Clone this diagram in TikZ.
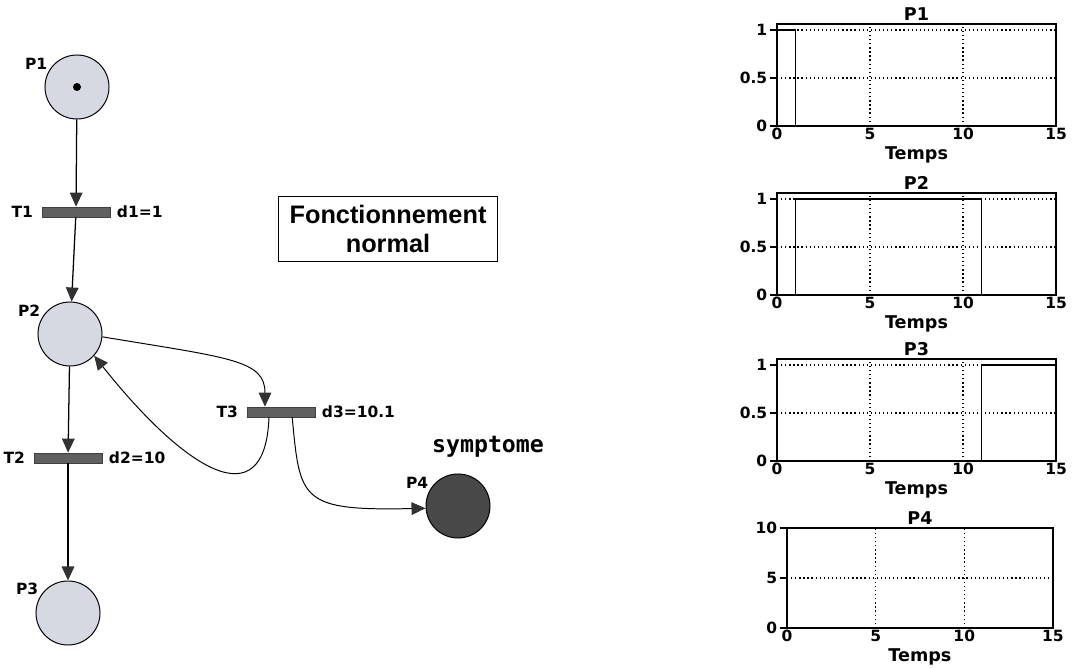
\documentclass[tikz,border=0pt]{standalone}
\usepackage{fontspec}
\setmainfont{DejaVu Sans}
\newfontfamily\boxfont{Liberation Sans}
\newfontfamily\symfont{DejaVu Sans Mono}
\usetikzlibrary{arrows.meta,positioning}

\definecolor{placegray}{RGB}{214,216,226}
\definecolor{markgray}{RGB}{72,72,72}
\definecolor{bargray}{RGB}{96,96,96}
\definecolor{tipgray}{RGB}{50,50,50}

\tikzset{
  place/.style={circle,draw,line width=0.7pt,fill=placegray,minimum size=1.6cm,inner sep=0pt},
  transition/.style={rectangle,draw=black!75,line width=0.5pt,fill=bargray,minimum width=1.7cm,minimum height=0.25cm,inner sep=0pt},
  lbl/.style={font=\bfseries\fontsize{11}{13}\selectfont,inner sep=1pt},
  arc/.style={line width=0.7pt,-{Triangle[length=10pt,width=9pt,color=tipgray]}},
  frame/.style={line width=1pt},
  gridline/.style={dotted,line width=0.9pt},
  trace/.style={line width=1pt},
  tick/.style={font=\bfseries\fontsize{11}{13}\selectfont,inner sep=1.5pt},
  axistitle/.style={font=\bfseries\fontsize{12.5}{14}\selectfont,inner sep=0pt}
}

\begin{document}
\begin{tikzpicture}[x=0.025cm,y=0.025cm]
  \useasboundingbox (0,0) rectangle (1072,-668);

  % the net
  \node[place,label={[lbl]150:P1}] (P1) at (77,-87) {};
  \node[circle,fill=black,minimum size=0.2cm,inner sep=0pt] (tok) at (P1) {};
  \node[transition,label={[lbl,label distance=5pt]left:T1},label={[lbl,label distance=3.5pt]right:d1=1}] (T1) at (76,-212) {};
  \node[place,label={[lbl]150:P2}] (P2) at (70,-334) {};
  \node[transition,label={[lbl,label distance=5pt]left:T2},label={[lbl,label distance=3.5pt]right:d2=10}] (T2) at (68,-458) {};
  \node[place,label={[lbl]150:P3}] (P3) at (68,-613) {};
  \node[transition,label={[lbl,label distance=5pt]left:T3},label={[lbl,label distance=3.5pt]right:d3=10.1}] (T3) at (281,-412) {};
  \node[place,fill=markgray,label={[lbl]150:P4}] (P4) at (458,-506) {};
  \node[font=\symfont\bfseries\fontsize{16.5}{18}\selectfont,inner sep=0pt] (symp) at (488,-447) {symptome};

  \node[draw,line width=0.8pt,minimum width=5.475cm,minimum height=1.63cm,align=center,
        font=\boxfont\bfseries\fontsize{18}{20}\selectfont] (mode) at (388,-229) {Fonctionnement\\normal};

  \draw[arc,line width=0.9pt] (P1) -- (T1);
  \draw[arc,line width=0.9pt] (T1) -- (P2);
  \draw[arc,line width=0.9pt] (P2) -- (T2);
  \draw[arc,line width=0.9pt] (T2) -- (P3);
  \draw[arc] (P2.-5) .. controls (230,-358) and (265,-360) .. ([xshift=-0.4cm]T3.north);
  \draw[arc] ([xshift=-0.3cm]T3.south) .. controls (265,-520) and (185,-470) .. (P2.-42);
  \draw[arc] ([xshift=0.28cm]T3.south) .. controls (300,-500) and (300,-511) .. (P4.184);

  % marking of P1
  \begin{scope}[shift={(777,-126)},x=0.465cm,y=2.4cm]
    \draw[gridline] (0,0.5) -- (15,0.5) (0,1) -- (15,1) (5,0) -- (5,1.0625) (10,0) -- (10,1.0625);
    \draw[frame] (0,0) rectangle (15,1.0625);
    \draw[trace] (0,1) -- (1,1) -- (1,0) -- (15,0);
    \foreach \v in {0,0.5,1}
      \draw[frame] (0,\v) -- ++(-5pt,0) node[tick,left] (p1y\v) {\v};
    \foreach \t in {0,5,10,15}
      \node[tick,below] (p1x\t) at (\t,0) {\t};
    \node[axistitle,yshift=2.5mm] (p1t) at (7.5,1.0625) {P1};
    \node[axistitle,yshift=-7.2mm] (p1a) at (7.5,0) {Temps};
  \end{scope}

  % marking of P2
  \begin{scope}[shift={(777,-295)},x=0.465cm,y=2.4cm]
    \draw[gridline] (0,0.5) -- (15,0.5) (0,1) -- (15,1) (5,0) -- (5,1.0625) (10,0) -- (10,1.0625);
    \draw[frame] (0,0) rectangle (15,1.0625);
    \draw[trace] (0,0) -- (1,0) -- (1,1) -- (11,1) -- (11,0) -- (15,0);
    \foreach \v in {0,0.5,1}
      \draw[frame] (0,\v) -- ++(-5pt,0) node[tick,left] (p2y\v) {\v};
    \foreach \t in {0,5,10,15}
      \node[tick,below] (p2x\t) at (\t,0) {\t};
    \node[axistitle,yshift=2.5mm] (p2t) at (7.5,1.0625) {P2};
    \node[axistitle,yshift=-7.2mm] (p2a) at (7.5,0) {Temps};
  \end{scope}

  % marking of P3
  \begin{scope}[shift={(777,-461)},x=0.465cm,y=2.4cm]
    \draw[gridline] (0,0.5) -- (15,0.5) (0,1) -- (15,1) (5,0) -- (5,1.0625) (10,0) -- (10,1.0625);
    \draw[frame] (0,0) rectangle (15,1.0625);
    \draw[trace] (0,0) -- (11,0) -- (11,1) -- (15,1);
    \foreach \v in {0,0.5,1}
      \draw[frame] (0,\v) -- ++(-5pt,0) node[tick,left] (p3y\v) {\v};
    \foreach \t in {0,5,10,15}
      \node[tick,below] (p3x\t) at (\t,0) {\t};
    \node[axistitle,yshift=2.5mm] (p3t) at (7.5,1.0625) {P3};
    \node[axistitle,yshift=-7.2mm] (p3a) at (7.5,0) {Temps};
  \end{scope}

  % marking of P4
  \begin{scope}[shift={(787,-628)},x=0.443cm,y=0.25cm]
    \draw[gridline] (0,5) -- (15,5) (5,0) -- (5,10) (10,0) -- (10,10);
    \draw[frame] (0,0) rectangle (15,10);
    \draw[trace] (0,0) -- (15,0);
    \foreach \v in {0,5,10}
      \draw[frame] (0,\v) -- ++(-5pt,0) node[tick,left] (p4y\v) {\v};
    \foreach \t in {0,5,10,15}
      \node[tick,below] (p4x\t) at (\t,0) {\t};
    \node[axistitle,yshift=2.5mm] (p4t) at (7.5,10) {P4};
    \node[axistitle,yshift=-7.2mm] (p4a) at (7.5,0) {Temps};
  \end{scope}
\end{tikzpicture}
\end{document}
